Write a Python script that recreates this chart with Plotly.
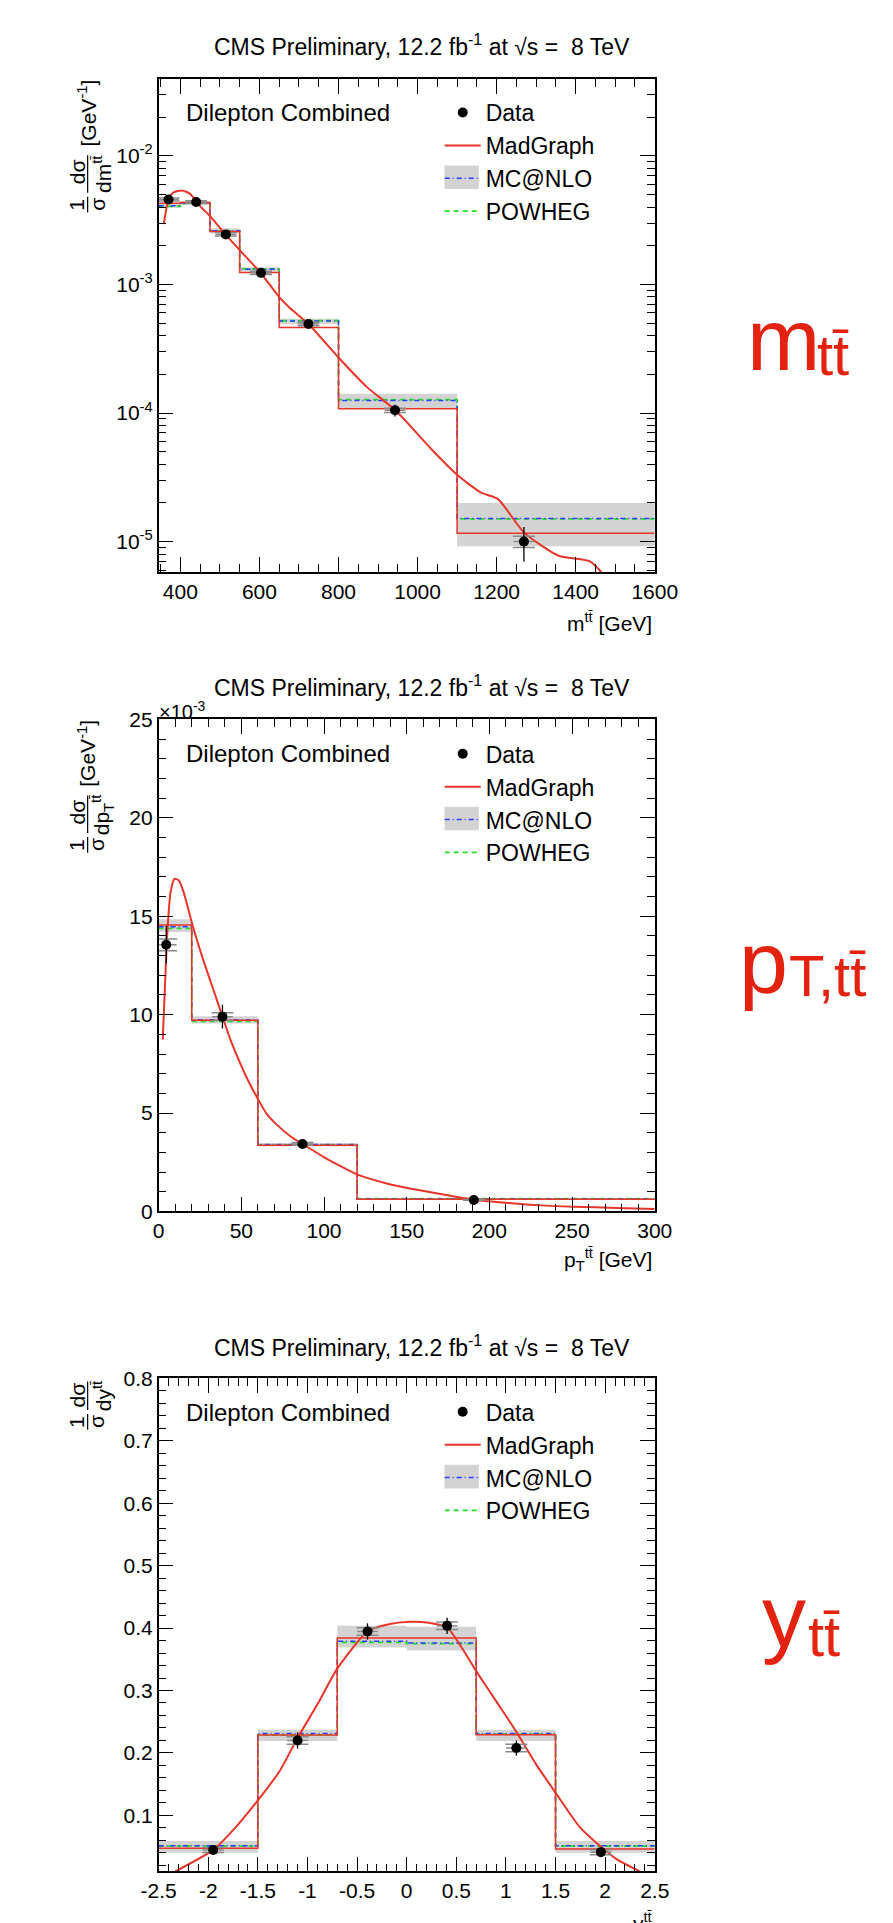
import plotly.graph_objects as go

# ---------------- data ----------------
# m_tt panel
mtt_edges = [345, 400, 475, 550, 650, 800, 1100, 1600]
mtt_data_x = [370, 440, 515, 604, 724, 943, 1269]
mtt_data_y = [4.57e-3, 4.38e-3, 2.45e-3, 1.23e-3, 4.93e-4, 1.05e-4, 1.0e-5]
mtt_data_err = [2.5e-4, 2.2e-4, 1.2e-4, 6e-5, 2.5e-5, 1.1e-5, 3.0e-6]
mtt_data_syst = [1.2e-4, 1.0e-4, 7e-5, 3.5e-5, 1.5e-5, 4e-6, 1.0e-6]
mtt_madgraph = [4.28e-3, 4.33e-3, 2.58e-3, 1.24e-3, 4.62e-4, 1.08e-4, 1.16e-5]
mtt_mcatnlo = [4.10e-3, 4.30e-3, 2.62e-3, 1.31e-3, 5.20e-4, 1.25e-4, 1.51e-5]
mtt_powheg = [4.05e-3, 4.28e-3, 2.60e-3, 1.32e-3, 5.22e-4, 1.27e-4, 1.50e-5]
mtt_band_lo = [3.95e-3, 4.15e-3, 2.50e-3, 1.26e-3, 4.90e-4, 1.08e-4, 9.2e-6]
mtt_band_hi = [4.25e-3, 4.45e-3, 2.74e-3, 1.36e-3, 5.40e-4, 1.41e-4, 2.0e-5]
mtt_curve_x = [358, 371, 383, 404, 424, 440, 456, 475, 514, 555, 603, 649, 677,
               724, 804, 872, 944, 1037, 1100, 1161, 1203, 1269, 1355, 1437, 1465]
mtt_curve_y = [2.94e-3, 4.71e-3, 5.2e-3, 5.38e-3, 5.08e-3, 4.44e-3, 3.88e-3, 3.40e-3,
               2.45e-3, 1.78e-3, 1.23e-3, 8.05e-4, 6.55e-4, 4.93e-4, 2.62e-4, 1.59e-4,
               1.05e-4, 5.16e-5, 3.31e-5, 2.4e-5, 2.15e-5, 1.18e-5, 7.8e-6, 7.0e-6, 5.78e-6]

# pT panel (values in units of 1e-3 GeV^-1)
pt_edges = [0, 20, 60, 120, 300]
pt_data_x = [4.6, 38.6, 87, 190.6]
pt_data_y = [13.55, 9.9, 3.43, 0.585]
pt_data_err = [0.95, 0.6, 0.15, 0.05]
pt_data_syst = [0.3, 0.2, 0.07, 0.02]
pt_madgraph = [14.55, 9.72, 3.36, 0.62]
pt_mcatnlo = [14.47, 9.74, 3.40, 0.64]
pt_powheg = [14.38, 9.66, 3.38, 0.65]
pt_band_lo = [14.2, 9.55, 3.30, 0.60]
pt_band_hi = [14.85, 9.92, 3.48, 0.68]
pt_curve_x = [2.5, 3.8, 5.4, 7.3, 9.6, 12.1, 15, 20.7, 26.5, 34.2, 38.6, 44, 50, 55, 60,
              65, 71.6, 80, 87, 99.6, 110, 120.3, 139, 152, 172, 190.6, 211.7, 231, 251, 277, 300]
pt_curve_y = [8.73, 11.4, 14.4, 16.25, 16.9, 16.83, 16.25, 14.49, 12.9, 11.0, 9.9, 8.6, 7.4,
              6.5, 5.72, 5.0, 4.4, 3.8, 3.43, 2.78, 2.3, 1.87, 1.4, 1.17, 0.86, 0.6, 0.43,
              0.31, 0.24, 0.18, 0.13]

# y_tt panel
y_edges = [-2.5, -1.5, -0.7, 0, 0.7, 1.5, 2.5]
y_data_x = [-1.95, -1.1, -0.395, 0.407, 1.105, 1.957]
y_data_y = [0.0446, 0.220, 0.3946, 0.4036, 0.208, 0.041]
y_data_err = [0.007, 0.013, 0.013, 0.013, 0.012, 0.007]
y_data_syst = [0.004, 0.006, 0.006, 0.006, 0.006, 0.004]
y_madgraph = [0.0472, 0.2288, 0.384, 0.384, 0.229, 0.046]
y_mcatnlo = [0.0514, 0.231, 0.379, 0.376, 0.231, 0.0514]
y_powheg = [0.0505, 0.229, 0.377, 0.375, 0.230, 0.0505]
y_band_lo = [0.040, 0.219, 0.369, 0.364, 0.219, 0.040]
y_band_hi = [0.059, 0.237, 0.4036, 0.402, 0.237, 0.059]
y_curve_x = [-2.35, -1.95, -1.72, -1.5, -1.28, -1.1, -0.895, -0.7, -0.395, -0.181, 0.025,
             0.204, 0.407, 0.709, 0.918, 1.105, 1.303, 1.51, 1.742, 1.957, 2.127, 2.347]
y_curve_y = [0.0086, 0.0446, 0.0815, 0.124, 0.171, 0.224, 0.279, 0.335, 0.3946, 0.406, 0.41,
             0.409, 0.401, 0.329, 0.279, 0.234, 0.182, 0.134, 0.0815, 0.0498, 0.0287, 0.0104]

yt_tickvals = [-2.5, -2, -1.5, -1, -0.5, 0, 0.5, 1, 1.5, 2, 2.5]
yt_ticktext = ["-2.5", "-2", "-1.5", "-1", "-0.5", "0", "0.5", "1", "1.5", "2", "2.5"]
mtt_ytickvals = [1e-5, 1e-4, 1e-3, 1e-2]
mtt_yticktext = ["10<sup>-5</sup>", "10<sup>-4</sup>", "10<sup>-3</sup>", "10<sup>-2</sup>"]

TITLE = "CMS Preliminary, 12.2 fb<sup>-1</sup> at \u221as =  8 TeV"
TT = "t\u0074\u0304"

# ---------------- style ----------------
W, H = 893, 1923
FONT = "Liberation Sans, Arial, Helvetica, sans-serif"
BIGFONT = "Liberation Sans Narrow, Liberation Sans, Arial, sans-serif"
RED = "#E8352A"
BLUE = "#2B3CFF"
GREEN = "#22DD22"
BAND = "#D3D3D3"
LABEL_RED = "#E3220F"
GREYBAR = "#8a8a8a"


def px(x):
    return x / W


def py(y):
    return 1 - y / H


fig = go.Figure()


def add_panel(i, edges, dx, dy, derr, dsyst, mg, mc, pw, lo, hi, cx, cy, legend, xbar):
    xa = "x" if i == 1 else "x%d" % i
    ya = "y" if i == 1 else "y%d" % i
    # uncertainty band (MC@NLO)
    fig.add_trace(go.Scatter(x=edges, y=lo + [lo[-1]], mode="lines", line=dict(width=0, shape="hv"),
                             xaxis=xa, yaxis=ya, showlegend=False, hoverinfo="skip"))
    fig.add_trace(go.Scatter(x=edges, y=hi + [hi[-1]], mode="lines", line=dict(width=0, shape="hv"),
                             fill="tonexty", fillcolor=BAND, xaxis=xa, yaxis=ya, showlegend=False,
                             hoverinfo="skip"))
    fig.add_trace(go.Scatter(x=edges, y=pw + [pw[-1]], mode="lines", name="POWHEG",
                             line=dict(color=GREEN, width=1.8, dash="5px,4px", shape="hv"),
                             xaxis=xa, yaxis=ya, legend=legend, legendrank=4))
    fig.add_trace(go.Scatter(x=edges, y=mc + [mc[-1]], mode="lines", name="MC@NLO",
                             line=dict(color=BLUE, width=1.5, dash="5px,3px,1px,3px", shape="hv"),
                             xaxis=xa, yaxis=ya, legend=legend, legendrank=3))
    fig.add_trace(go.Scatter(x=edges, y=mg + [mg[-1]], mode="lines", name="MadGraph",
                             line=dict(color=RED, width=1.5, shape="hv"),
                             xaxis=xa, yaxis=ya, showlegend=False))
    fig.add_trace(go.Scatter(x=cx, y=cy, mode="lines", name="MadGraph",
                             line=dict(color=RED, width=2, shape="spline", smoothing=0.6),
                             xaxis=xa, yaxis=ya, legend=legend, legendrank=2))
    # data: gray caps/horizontal bar + black total error
    fig.add_trace(go.Scatter(x=dx, y=dy, mode="markers", marker=dict(size=1, color="rgba(0,0,0,0)"),
                             error_y=dict(type="data", array=dsyst, color=GREYBAR, thickness=1.5, width=11),
                             error_x=dict(type="constant", value=xbar, color=GREYBAR, thickness=1.5, width=0),
                             xaxis=xa, yaxis=ya, showlegend=False, hoverinfo="skip"))
    fig.add_trace(go.Scatter(x=dx, y=dy, mode="markers", name="Data",
                             marker=dict(size=10, color="black"),
                             error_y=dict(type="data", array=derr, color="black", thickness=1.3, width=0),
                             xaxis=xa, yaxis=ya, legend=legend, legendrank=1))


add_panel(1, mtt_edges, mtt_data_x, mtt_data_y, mtt_data_err, mtt_data_syst, mtt_madgraph, mtt_mcatnlo,
          mtt_powheg, mtt_band_lo, mtt_band_hi, mtt_curve_x, mtt_curve_y, "legend", 26)
add_panel(2, pt_edges, pt_data_x, pt_data_y, pt_data_err, pt_data_syst, pt_madgraph, pt_mcatnlo,
          pt_powheg, pt_band_lo, pt_band_hi, pt_curve_x, pt_curve_y, "legend2", 6.3)
add_panel(3, y_edges, y_data_x, y_data_y, y_data_err, y_data_syst, y_madgraph, y_mcatnlo,
          y_powheg, y_band_lo, y_band_hi, y_curve_x, y_curve_y, "legend3", 0.105)

# ---------------- axes ----------------
XL, XR = 147.4, 667.4
panel_px = [(68, 567), (716, 1214), (1383, 1882)]


def axis_common():
    return dict(showline=True, linecolor="black", linewidth=1.5, mirror="ticks", ticks="inside",
                ticklen=15, tickwidth=1, tickcolor="black", showgrid=False, zeroline=False,
                tickfont=dict(size=21, family=FONT, color="black"),
                minor=dict(ticks="inside", ticklen=8, tickwidth=1, tickcolor="black", showgrid=False))


x1 = axis_common(); x1.update(range=[345, 1600], dtick=200, tick0=0, anchor="y",
                              domain=[px(XL), px(XR)]); x1["minor"]["dtick"] = 50
y1 = axis_common(); y1.update(type="log", range=[-5.238, -1.404], tickvals=mtt_ytickvals,
                              ticktext=mtt_yticktext, anchor="x",
                              domain=[py(panel_px[0][1]), py(panel_px[0][0])])
y1["minor"]["dtick"] = "D1"
x2 = axis_common(); x2.update(range=[0, 300], dtick=50, tick0=0, anchor="y2",
                              domain=[px(XL), px(XR)]); x2["minor"]["dtick"] = 10
y2 = axis_common(); y2.update(range=[0, 25], dtick=5, tick0=0, anchor="x2",
                              domain=[py(panel_px[1][1]), py(panel_px[1][0])]); y2["minor"]["dtick"] = 1
x3 = axis_common(); x3.update(range=[-2.5, 2.5], tickvals=yt_tickvals, ticktext=yt_ticktext, anchor="y3",
                              domain=[px(XL), px(XR)]); x3["minor"]["dtick"] = 0.1; x3["minor"]["tick0"] = 0
y3 = axis_common(); y3.update(range=[0.01, 0.8], dtick=0.1, tick0=0, anchor="x3",
                              domain=[py(panel_px[2][1]), py(panel_px[2][0])]); y3["minor"]["dtick"] = 0.02
y3["minor"]["tick0"] = 0

annotations = []
shapes = []


def ann(text, x, y, size, xanchor="center", yanchor="middle", angle=0, color="black", family=FONT):
    annotations.append(dict(text=text, x=px(x), y=py(y), xref="paper", yref="paper", showarrow=False,
                            xanchor=xanchor, yanchor=yanchor, textangle=angle,
                            font=dict(size=size, family=family, color=color)))


def vbar(x, y0, y1_):
    shapes.append(dict(type="line", xref="paper", yref="paper", x0=px(x), x1=px(x), y0=py(y0), y1=py(y1_),
                       line=dict(color="black", width=1.2)))


titles_y = [33, 682, 1350]
label_y = [102, 750, 1417]
legend_top = [80, 729, 1395]
for ty in titles_y:
    ann(TITLE, 423, ty, 23)
for ly in label_y:
    ann("Dilepton Combined", 174, ly, 24, xanchor="left")

# legend swatch for the MC@NLO uncertainty band (grey box behind the line)
for lt in legend_top:
    c = lt + 5 + 16.45 + 2 * 32.9
    shapes.append(dict(type="rect", xref="paper", yref="paper", x0=px(447), x1=px(483),
                       y0=py(c + 12), y1=py(c - 12), fillcolor=BAND, line=dict(width=0), layer="above"))

# y-axis titles (ROOT-style fractions, rotated)
YT = 21
for var, off, unit in [("dm<sup>" + TT + "</sup>", 0, True),
                       ("dp<sub>T</sub><sup>" + TT + "</sup>", 648, True),
                       ("dy<sup>" + TT + "</sup>", 0, False)]:
    if unit:
        ann("[GeV<sup>-1</sup>]", 72, 102 + off, YT, angle=-90)
        ann("d\u03c3", 62, 162 + off, YT, angle=-90)
        ann(var, 88, 164 + off, YT, angle=-90)
        vbar(73, 145 + off, 183 + off)
        ann("1", 62, 195 + off, YT, angle=-90)
        ann("\u03c3", 83, 195 + off, YT, angle=-90)
        vbar(73, 187 + off, 203 + off)
    else:
        base = 1383
        ann("d\u03c3", 62, base + 17, YT, angle=-90)
        ann(var, 88, base + 18, YT, angle=-90)
        vbar(73, base + 3, base + 32)
        ann("1", 62, base + 44, YT, angle=-90)
        ann("\u03c3", 83, base + 44, YT, angle=-90)
        vbar(73, base + 36, base + 52)

# x-axis titles
ann("m<sup>" + TT + "</sup> [GeV]", 667, 617, 21, xanchor="right")
ann("p<sub>T</sub><sup>" + TT + "</sup> [GeV]", 667, 1263, 21, xanchor="right")
ann("y<sup>" + TT + "</sup>", 667, 1918, 21, xanchor="right", yanchor="top")
ann("\u00d710<sup>-3</sup>", 146, 707, 20, xanchor="left")

# big red labels on the right
ann("m", 762, 331, 88, xanchor="left", color=LABEL_RED, family=BIGFONT)
ann(TT, 835, 347, 58, xanchor="left", color=LABEL_RED, family=BIGFONT)
ann("p", 754, 962, 88, xanchor="left", color=LABEL_RED, family=BIGFONT)
ann("T," + TT, 806, 975, 58, xanchor="left", color=LABEL_RED, family=BIGFONT)
ann("y", 778, 1624, 88, xanchor="left", color=LABEL_RED, family=BIGFONT)
ann(TT, 826, 1643, 58, xanchor="left", color=LABEL_RED, family=BIGFONT)


def legend_cfg(top):
    return dict(x=px(442), y=py(top), xanchor="left", yanchor="top", bgcolor="rgba(0,0,0,0)",
                font=dict(size=23, family=FONT, color="black"), itemwidth=36, tracegroupgap=0,
                traceorder="normal", borderwidth=0)


fig.update_layout(
    width=W, height=H, autosize=False, margin=dict(l=0, r=0, t=0, b=0),
    paper_bgcolor="white", plot_bgcolor="rgba(0,0,0,0)", showlegend=True,
    xaxis=x1, yaxis=y1, xaxis2=x2, yaxis2=y2, xaxis3=x3, yaxis3=y3,
    legend=legend_cfg(legend_top[0]), legend2=legend_cfg(legend_top[1]), legend3=legend_cfg(legend_top[2]),
    annotations=annotations, shapes=shapes, font=dict(family=FONT),
)

fig.write_html("out.html", config={"displayModeBar": False},
               post_script="document.body.style.margin='0';document.body.style.overflow='hidden';")
